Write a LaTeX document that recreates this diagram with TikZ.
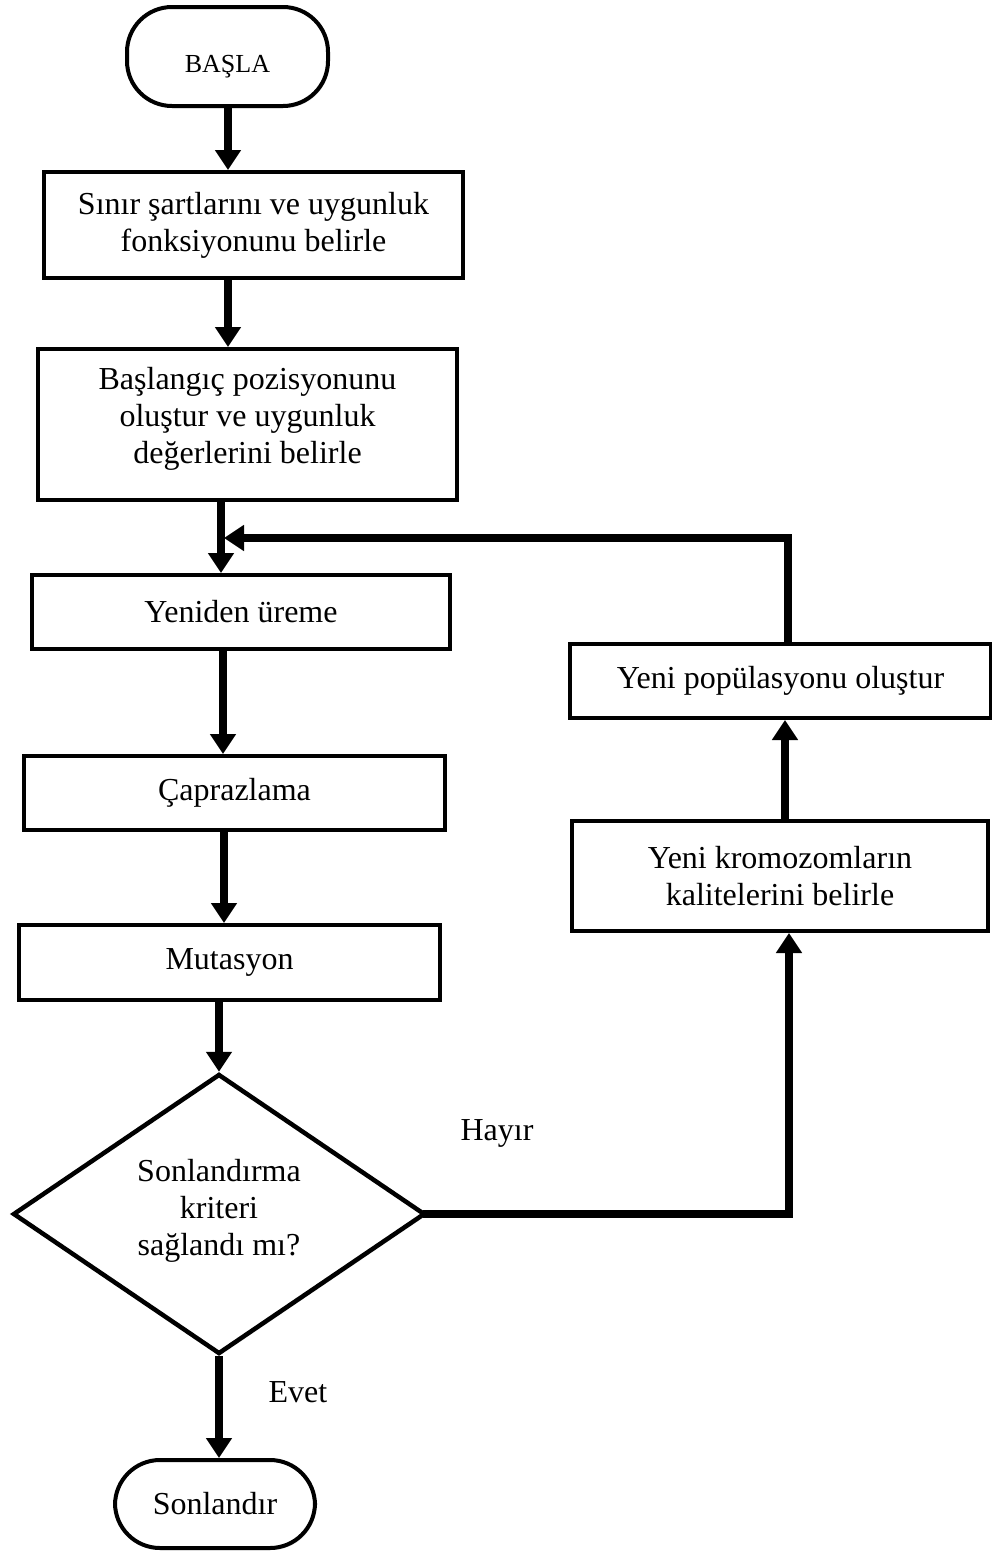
\documentclass[tikz,border=0pt]{standalone}
\usepackage{fontspec}
\setmainfont{Liberation Serif}
\usetikzlibrary{arrows.meta,shapes.geometric,shadows}
\begin{document}
\begin{tikzpicture}[x=1pt,y=-1pt,
  txt/.style={font=\fontsize{32}{37}\selectfont, align=center},
  box/.style={txt, draw, line width=4pt, fill=white, inner sep=0pt,
    drop shadow={shadow xshift=1.5pt, shadow yshift=-2pt, opacity=0.25}},
  term/.style={box, rounded corners=45pt},
  dec/.style={draw, line width=4.5pt, fill=white, diamond, inner sep=0pt,
    drop shadow={shadow xshift=1.5pt, shadow yshift=-2pt, opacity=0.25}},
  conn/.style={line width=8pt},
  arr/.style={conn, -{Triangle[length=20pt,width=25pt]}},
  lbl/.style={txt}
]
\useasboundingbox (0,0) rectangle (992,1553);

% column coordinates
\coordinate (c1) at (228,0);
\coordinate (c2) at (221,0);
\coordinate (c3) at (223,0);
\coordinate (c4) at (224,0);
\coordinate (j) at (221,538);
\coordinate (fr) at (788,538);
\coordinate (hr) at (789,1214);
\coordinate (c6) at (785,0);

% nodes
\node[term, minimum width=201pt, minimum height=99pt] (start) at (227.5,56.5) {};
\node[txt, font=\fontsize{26}{30}\selectfont] (starttext) at (227.5,67) {BAŞLA};
\node[box, minimum width=419pt, minimum height=106pt] (b1) at (253.5,225) {Sınır şartlarını ve uygunluk\\fonksiyonunu belirle};
\node[box, minimum width=419pt, minimum height=151pt] (b2) at (247.5,424.5) {};
\node[txt] (b2text) at (247.5,419) {Başlangıç pozisyonunu\\oluştur ve uygunluk\\değerlerini belirle};
\node[box, minimum width=418pt, minimum height=74pt] (b3) at (241,612) {Yeniden üreme};
\node[box, minimum width=421pt, minimum height=74pt] (b4) at (234.5,793) {Çaprazlama};
\node[box, minimum width=421pt, minimum height=75pt] (b5) at (229.5,962.5) {Mutasyon};
\node[dec, minimum width=412pt, minimum height=280pt] (d) at (219,1214) {};
\node[txt] (dt) at ([yshift=3pt]d.center) {Sonlandırma\\kriteri\\sağlandı mı?};
\node[term, minimum width=200pt, minimum height=88pt] (end) at (215,1504) {Sonlandır};
\node[box, minimum width=421pt, minimum height=74pt] (pop) at (780.5,681) {Yeni popülasyonu oluştur};
\node[box, minimum width=416pt, minimum height=110pt] (kro) at (780,876) {Yeni kromozomların\\kalitelerini belirle};
\node[lbl] (hayir) at (497,1133) {Hayır};
\node[lbl] (evet) at (298,1392) {Evet};

% connectors
\draw[arr] (start.south -| c1) -- (b1.north -| c1);
\draw[arr] (b1.south -| c1) -- (b2.north -| c1);
\draw[arr] (b2.south -| c2) -- (b3.north -| c2);
\draw[arr] (fr |- pop.north) -- (fr) -- ([xshift=3pt]j);
\draw[arr] (b3.south -| c3) -- (b4.north -| c3);
\draw[arr] (b4.south -| c4) -- (b5.north -| c4);
\draw[arr] (b5.south -| d.north) -- (d.north);
\draw[arr] (d.south) -- (end.north -| d.south);
\draw[arr, line cap=rect] (d.east) -- (hr) -- (hr |- kro.south);
\draw[arr] (kro.north -| c6) -- (pop.south -| c6);
\end{tikzpicture}
\end{document}
